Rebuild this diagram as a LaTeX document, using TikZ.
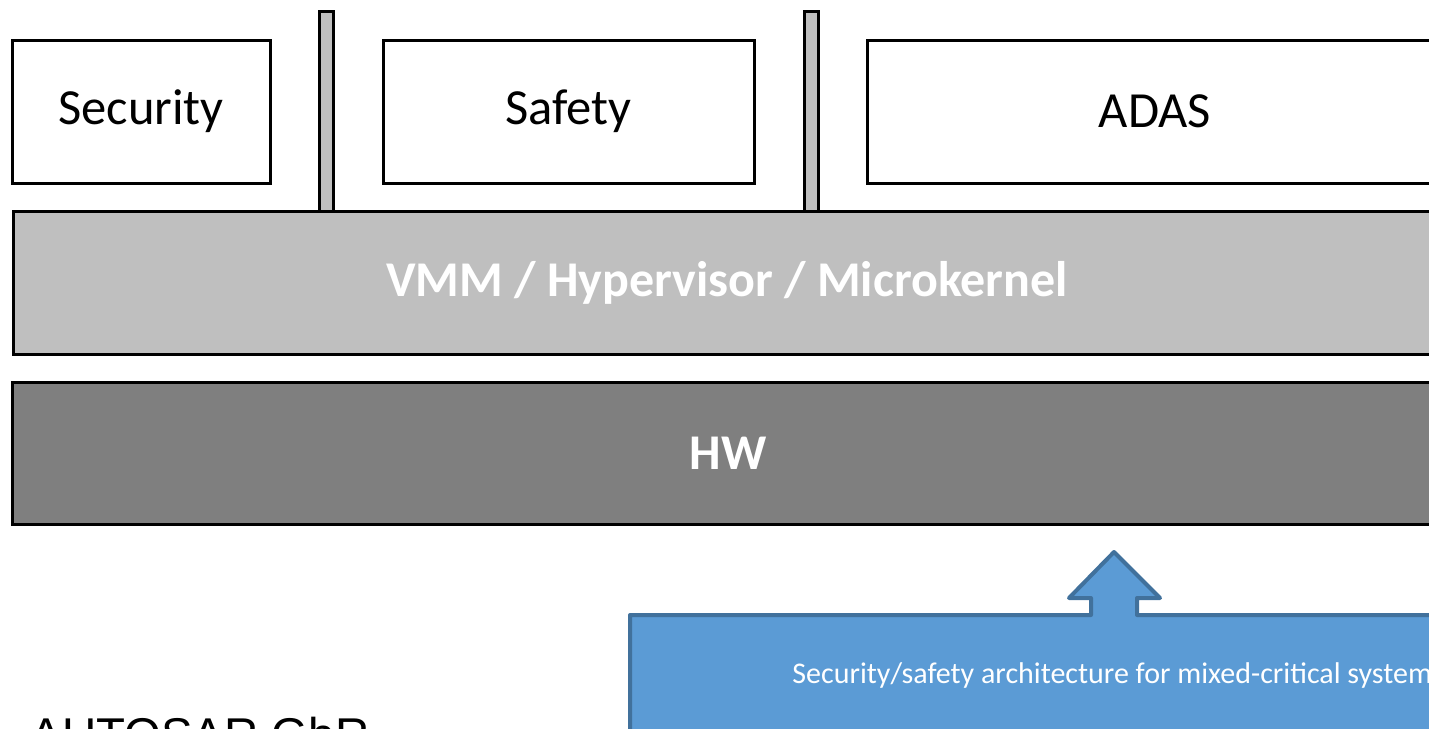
\documentclass[tikz,border=0pt]{standalone}
\usepackage{fontspec}
\setmainfont{Carlito}
\newfontfamily\arialfont{Liberation Sans}
\usepackage{tikz}
\usetikzlibrary{positioning}
\definecolor{vmmgray}{HTML}{BFBFBF}
\definecolor{hwgray}{HTML}{7F7F7F}
\definecolor{calloutblue}{HTML}{5B9BD5}
\definecolor{calloutedge}{HTML}{41719C}
\tikzset{
	part/.style={draw, line width=1.5pt, fill=white, inner sep=0pt, font=\fontsize{25.3}{30}\selectfont},
	layer/.style={draw, line width=1.5pt, inner sep=0pt, text=white, font=\bfseries\fontsize{25}{30}\selectfont},
	pillar/.style={draw, line width=1.5pt, fill=vmmgray, inner sep=0pt, minimum width=7pt, minimum height=100pt}
}

\begin{document}
\begin{tikzpicture}[x=0.5pt, y=-0.5pt]
		\useasboundingbox (0,0) rectangle (1429,728);
		\clip (0,0) rectangle (1429,728);

		% Define nodes
		\node[part, minimum width=129pt, minimum height=71.5pt] (security) at (141,111.5) {Security};
		\node[part, minimum width=185.5pt, minimum height=71.5pt] (safety) at (568.5,111.5) {Safety};
		\node[part, minimum width=288pt, minimum height=71.5pt] (adas) at (1155,111.5) {ADAS};
		\node[pillar] (sep1) at (326,111) {};
		\node[pillar] (sep2) at (811.5,111) {};
		\node[layer, fill=vmmgray, minimum width=714pt, minimum height=71.5pt] (vmm) at (727,282.5) {VMM / Hypervisor / Microkernel};
		\node[layer, fill=hwgray, minimum width=716pt, minimum height=71pt] (hw) at (728,453) {HW};

		% Callout with arrow
		\draw[line width=2pt, line join=round, draw=calloutedge, fill=calloutblue]
			(630,760) -- (630,615) -- (1091,615) -- (1091,598) -- (1069,598) -- (1114,552)
			-- (1160,598) -- (1137,598) -- (1137,615) -- (1480,615) -- (1480,760) -- cycle;
		\node[anchor=base west, text=white, inner sep=0pt, font=\fontsize{15}{18}\selectfont] (callout) at (792,683)
			{Security/safety architecture for mixed-critical system};

		\node[anchor=base west, inner sep=0pt, font=\arialfont\fontsize{23.7}{28}\selectfont] (gbr) at (30,751) {AUTOSAR GbR};
	\end{tikzpicture}
\end{document}
